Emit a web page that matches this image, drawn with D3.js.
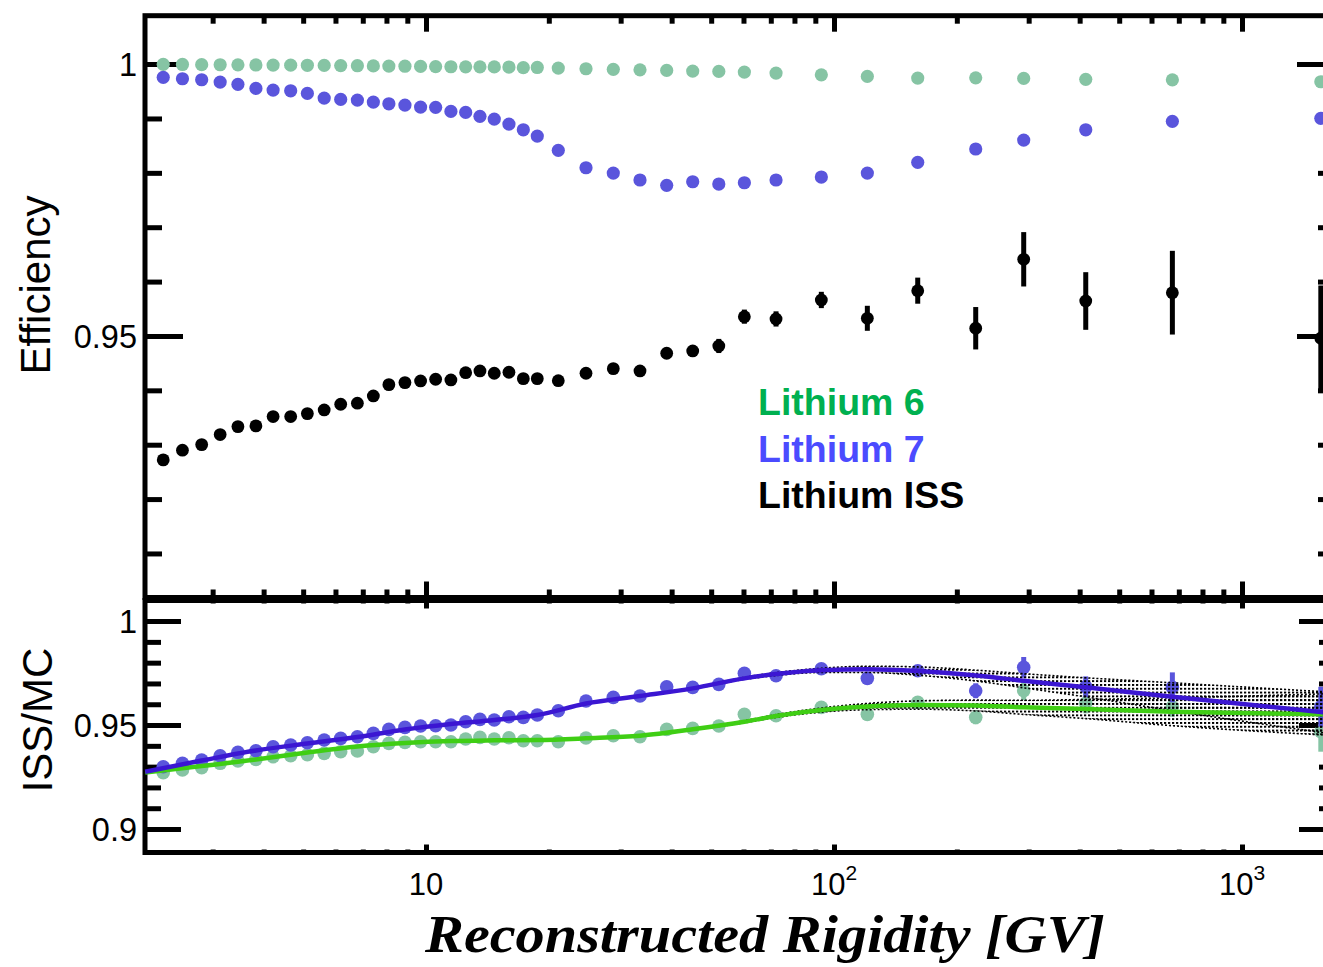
<!DOCTYPE html>
<html>
<head>
<meta charset="utf-8">
<script src="https://cdn.jsdelivr.net/npm/d3@7"></script>
<style>
  html, body { margin: 0; padding: 0; background: #fff; overflow: hidden; }
  svg { display: block; }
</style>
</head>
<body>
<svg id="chart" width="1323" height="967"></svg>
<script>
// Rigidity bin centres [GV]
const rigidity = [2.27, 2.53, 2.82, 3.13, 3.46, 3.83, 4.22, 4.66, 5.12, 5.63, 6.18, 6.79, 7.43, 8.11, 8.88, 9.70, 10.56,
  11.51, 12.51, 13.56, 14.70, 15.97, 17.32, 18.74, 21.10, 24.67, 28.78, 33.46, 38.9, 45.05, 52.2, 60.3, 72.1, 93.1, 120.7,
  160.4, 222.5, 291.7, 414, 675, 1560];

// Efficiency, Monte Carlo Li6
const effLi6 = [0.99995, 0.99993, 0.9999, 0.99988, 0.99986, 0.99984, 0.99982, 0.9998, 0.99978, 0.99976, 0.99973, 0.9997, 0.99967, 0.99964, 0.99961, 0.99957, 0.99954,
  0.99951, 0.9995, 0.99949, 0.99948, 0.99946, 0.99935, 0.99938, 0.99926, 0.99914, 0.99903, 0.99895, 0.99884, 0.99871, 0.99866, 0.99853, 0.99835, 0.99803, 0.99774,
  0.99743, 0.99748, 0.99737, 0.99719, 0.99711, 0.99675];

// Efficiency, Monte Carlo Li7
const effLi7 = [0.99756, 0.9973, 0.99712, 0.99669, 0.99627, 0.99553, 0.99522, 0.99509, 0.99461, 0.99375, 0.99351, 0.99338, 0.99301, 0.9927, 0.99246, 0.9921, 0.99204,
  0.9913, 0.99112, 0.99039, 0.98989, 0.98897, 0.98792, 0.98676, 0.98414, 0.98094, 0.97996, 0.97868, 0.9777, 0.97836, 0.97794, 0.97818, 0.97868, 0.97923, 0.97996,
  0.98193, 0.98438, 0.98603, 0.98792, 0.98947, 0.99002];

// Efficiency, ISS data, with its uncertainty
const effISS = [0.92721, 0.92899, 0.93002, 0.93186, 0.93333, 0.93346, 0.93517, 0.93517, 0.93572, 0.9364, 0.93744, 0.93763, 0.93897, 0.94105, 0.94142, 0.94173, 0.94204,
  0.94191, 0.94325, 0.94357, 0.94314, 0.94333, 0.94215, 0.94215, 0.94178, 0.94314, 0.94399, 0.94357, 0.94682, 0.94724, 0.94816, 0.95355, 0.95313, 0.95662, 0.95325,
  0.95833, 0.95142, 0.9641, 0.95643, 0.95796, 0.94958];
const effISSErr = [0.0003, 0.0003, 0.0003, 0.0003, 0.0003, 0.0003, 0.0003, 0.0003, 0.0003, 0.0003, 0.0003, 0.0003, 0.0003, 0.0003, 0.0003, 0.0003, 0.0003,
  0.0003, 0.0003, 0.0004, 0.0004, 0.0004, 0.0004, 0.0004, 0.0004, 0.0005, 0.0005, 0.0005, 0.0006, 0.0007, 0.0013, 0.0013, 0.0014, 0.0015, 0.0023,
  0.0024, 0.0039, 0.005, 0.0053, 0.0077, 0.0097];

// ISS / MC ratios
const ratioLi7 = [0.92995, 0.93159, 0.93317, 0.93524, 0.93688, 0.93764, 0.93957, 0.94038, 0.94149, 0.94279, 0.9436, 0.94438, 0.94601, 0.94793, 0.94889, 0.94952, 0.94966,
  0.95, 0.95159, 0.95274, 0.9524, 0.95399, 0.9537, 0.95481, 0.95688, 0.96154, 0.96332, 0.96394, 0.96841, 0.96813, 0.96957, 0.97486, 0.9737, 0.97707, 0.97245,
  0.97611, 0.96649, 0.97774, 0.96841, 0.96813, 0.9588];
const ratioLi7Err = [0.0003, 0.0003, 0.0003, 0.0003, 0.0003, 0.0003, 0.0003, 0.0003, 0.0003, 0.0003, 0.0003, 0.0003, 0.0003, 0.0003, 0.0003, 0.0003, 0.0003,
  0.0003, 0.0003, 0.0004, 0.0004, 0.0004, 0.0004, 0.0004, 0.0004, 0.0005, 0.0005, 0.0005, 0.0006, 0.0007, 0.0008, 0.0009, 0.001, 0.0012, 0.0014,
  0.0016, 0.0036, 0.005, 0.005, 0.0072, 0.0096];
const ratioLi6 = [0.92707, 0.92837, 0.92947, 0.93159, 0.93269, 0.93351, 0.93476, 0.93524, 0.93572, 0.93639, 0.93716, 0.9375, 0.93957, 0.9412, 0.94168, 0.94197, 0.94197,
  0.94197, 0.94327, 0.94409, 0.94327, 0.9439, 0.94245, 0.94245, 0.94197, 0.94375, 0.94486, 0.94438, 0.94793, 0.94841, 0.94952, 0.95514, 0.95447, 0.95851, 0.95514,
  0.96091, 0.9537, 0.96649, 0.96043, 0.9588, 0.94678];
const ratioLi6Err = [0.0003, 0.0003, 0.0003, 0.0003, 0.0003, 0.0003, 0.0003, 0.0003, 0.0003, 0.0003, 0.0003, 0.0003, 0.0003, 0.0003, 0.0003, 0.0003, 0.0003,
  0.0003, 0.0003, 0.0004, 0.0004, 0.0004, 0.0004, 0.0004, 0.0004, 0.0005, 0.0005, 0.0005, 0.0006, 0.0007, 0.0008, 0.0009, 0.001, 0.0012, 0.0014,
  0.0016, 0.0033, 0.0045, 0.0048, 0.0048, 0.0096];

// Smooth fits to the ratios and their uncertainty band (half width)
const fitR   = [2.05, 2.82, 3.83, 5.12, 6.79, 8.88, 11.51, 14.7, 18.74, 24.67, 33.46, 45.05, 60.3, 72.1, 93.1, 120.7, 160.4, 222.5, 291.7, 414, 675, 1690];
const fitLi7 = [0.92755, 0.93293, 0.93774, 0.94111, 0.94423, 0.94784, 0.95048, 0.9524, 0.95481, 0.96034, 0.96394, 0.96764, 0.97245, 0.97452, 0.9763, 0.97678, 0.97596, 0.9738, 0.9713, 0.96813, 0.96361, 0.9556];
const fitLi6 = [0.92716, 0.93029, 0.93341, 0.93678, 0.93966, 0.94135, 0.94231, 0.94264, 0.94279, 0.9436, 0.94486, 0.94793, 0.95159, 0.95433, 0.95721, 0.95889, 0.95962, 0.95938, 0.95851, 0.95769, 0.95639, 0.95505];
const fitBand = [0.0002, 0.0002, 0.0002, 0.0002, 0.0002, 0.0002, 0.0002, 0.0002, 0.0002, 0.0002, 0.0002, 0.0003, 0.0005, 0.0007, 0.001, 0.0015, 0.002, 0.0026, 0.0034, 0.0046, 0.0067, 0.0101];

// Axis ticks and labels
const xMajor = [10, 100, 1000];
const xMajorExp = ["", "2", "3"];
const yTopMajor = [0.95, 1];
const yTopMajorLabels = ["0.95", "1"];
const yTopMinor = [0.91, 0.92, 0.93, 0.94, 0.96, 0.97, 0.98, 0.99];
const yBotMajor = [0.9, 0.95, 1];
const yBotMajorLabels = ["0.9", "0.95", "1"];
const yBotMinor = [0.91, 0.92, 0.93, 0.94, 0.96, 0.97, 0.98, 0.99];

const legendLabels = ["Lithium 6", "Lithium 7", "Lithium ISS"];
const legendColors = ["#00b050", "#4b4bff", "#000000"];

// ---------------------------------------------------------------
const W = 1323, H = 967;
const C_LI6 = "#86c4a4", C_LI7 = "#5a55dc", C_ISS = "#000";
const C_FIT7 = "#3b16d2", C_FIT6 = "#3fce14";

const svg = d3.select("#chart");
svg.append("rect").attr("width", W).attr("height", H).attr("fill", "#fff");

// dotted hatch used for the fit uncertainty band
const defs = svg.append("defs");
const pat = defs.append("pattern").attr("id", "dotfill")
  .attr("width", 4).attr("height", 3.8).attr("patternUnits", "userSpaceOnUse");
pat.append("rect").attr("width", 2.2).attr("height", 1.9).attr("fill", "#000");

const L = 145, R = 1335;
const topY0 = 15.7, topY1 = 597.5, botY0 = 600.5, botY1 = 852.5;

const x = d3.scaleLog().domain([2.048, 1690]).range([L, R]);
const yTop = d3.scaleLinear().domain([0.9019, 1.0089]).range([topY1, topY0]);
const yBot = d3.scaleLinear().domain([0.8887, 1.0099]).range([botY1, botY0]);

const xMinor = x.ticks().filter(t => !xMajor.includes(t));

function tickStyle(g) {
  g.select(".domain").remove();
  g.selectAll("text").remove();
  g.selectAll("line").attr("stroke", "#000").attr("stroke-width", 5);
}

function axes(yS, yMajor, yMinor, ymaj, ymin, xmaj, xmin, y0, y1) {
  svg.append("g").attr("transform", `translate(${L},0)`)
    .call(d3.axisLeft(yS).tickValues(yMajor).tickSize(-ymaj)).call(tickStyle);
  svg.append("g").attr("transform", `translate(${L},0)`)
    .call(d3.axisLeft(yS).tickValues(yMinor).tickSize(-ymin)).call(tickStyle);
  svg.append("g").attr("transform", `translate(${R},0)`)
    .call(d3.axisRight(yS).tickValues(yMajor).tickSize(-ymaj)).call(tickStyle);
  svg.append("g").attr("transform", `translate(${R},0)`)
    .call(d3.axisRight(yS).tickValues(yMinor).tickSize(-ymin)).call(tickStyle);
  svg.append("g").attr("transform", `translate(0,${y0})`)
    .call(d3.axisTop(x).tickValues(xMajor).tickSize(-xmaj)).call(tickStyle);
  svg.append("g").attr("transform", `translate(0,${y0})`)
    .call(d3.axisTop(x).tickValues(xMinor).tickSize(-xmin)).call(tickStyle);
  svg.append("g").attr("transform", `translate(0,${y1})`)
    .call(d3.axisBottom(x).tickValues(xMajor).tickSize(-xmaj)).call(tickStyle);
  svg.append("g").attr("transform", `translate(0,${y1})`)
    .call(d3.axisBottom(x).tickValues(xMinor).tickSize(-xmin)).call(tickStyle);
  svg.append("rect").attr("x", L).attr("y", y0).attr("width", R - L).attr("height", y1 - y0)
    .attr("fill", "none").attr("stroke", "#000").attr("stroke-width", 5);
}

axes(yTop, yTopMajor, yTopMinor, 38, 17, 16, 8, topY0, topY1);
axes(yBot, yBotMajor, yBotMinor, 36, 16, 8, 3, botY0, botY1);

// y tick labels
const labFont = "'Liberation Sans', Arial, Helvetica, sans-serif";
function yLabels(yS, vals, labels) {
  svg.append("g").selectAll("text").data(vals).join("text")
    .attr("x", 137).attr("y", d => yS(d)).attr("dy", "0.36em")
    .attr("text-anchor", "end").attr("font-family", labFont).attr("font-size", 32.5)
    .text((d, i) => labels[i]);
}
yLabels(yTop, yTopMajor, yTopMajorLabels);
yLabels(yBot, yBotMajor, yBotMajorLabels);

// x tick labels (powers of ten)
const xl = svg.append("g").selectAll("text").data(xMajor).join("text")
  .attr("x", d => x(d)).attr("y", 895).attr("text-anchor", "middle")
  .attr("font-family", labFont).attr("font-size", 31);
xl.append("tspan").text("10");
xl.filter((d, i) => xMajorExp[i] !== "").append("tspan")
  .attr("dy", -15).attr("font-size", 21).text(d => xMajorExp[xMajor.indexOf(d)]);

// axis titles
svg.append("text").attr("transform", "translate(50,285) rotate(-90)")
  .attr("text-anchor", "middle").attr("font-family", labFont).attr("font-size", 42)
  .text("Efficiency");
svg.append("text").attr("transform", "translate(52,720) rotate(-90)")
  .attr("text-anchor", "middle").attr("font-family", labFont).attr("font-size", 42)
  .text("ISS/MC");
svg.append("text").attr("x", 425).attr("y", 952)
  .attr("font-family", "'Liberation Serif', 'DejaVu Serif', serif")
  .attr("font-style", "italic").attr("font-weight", "bold").attr("font-size", 52)
  .attr("textLength", 680).attr("lengthAdjust", "spacingAndGlyphs")
  .text("Reconstructed Rigidity [GV]");

// ---------- top panel: efficiencies ----------
const topG = svg.append("g");
function errBars(g, yS, vals, errs, color) {
  g.append("g").selectAll("line").data(rigidity).join("line")
    .attr("x1", d => x(d)).attr("x2", d => x(d))
    .attr("y1", (d, i) => yS(vals[i] - errs[i])).attr("y2", (d, i) => yS(vals[i] + errs[i]))
    .attr("stroke", color).attr("stroke-width", 5);
}
function dots(g, yS, vals, color, r) {
  g.append("g").selectAll("circle").data(rigidity).join("circle")
    .attr("cx", d => x(d)).attr("cy", (d, i) => yS(vals[i])).attr("r", r).attr("fill", color);
}
dots(topG, yTop, effLi6, C_LI6, 6.6);
dots(topG, yTop, effLi7, C_LI7, 6.6);
errBars(topG, yTop, effISS, effISSErr, C_ISS);
dots(topG, yTop, effISS, C_ISS, 6.4);

// legend
svg.append("g").selectAll("text").data(legendLabels).join("text")
  .attr("x", 758).attr("y", (d, i) => 415 + i * 46.5)
  .attr("font-family", labFont).attr("font-weight", "bold").attr("font-size", 37.5)
  .attr("fill", (d, i) => legendColors[i]).text(d => d);

// ---------- bottom panel: ISS/MC ----------
const botG = svg.append("g");
const fitData7 = fitR.map((r, i) => ({ r, v: fitLi7[i], b: fitBand[i] }));
const fitData6 = fitR.map((r, i) => ({ r, v: fitLi6[i], b: fitBand[i] }));

errBars(botG, yBot, ratioLi6, ratioLi6Err, C_LI6);
dots(botG, yBot, ratioLi6, C_LI6, 6.8);
errBars(botG, yBot, ratioLi7, ratioLi7Err, C_LI7);
dots(botG, yBot, ratioLi7, C_LI7, 6.8);

const band = d3.area().x(d => x(d.r)).y0(d => yBot(d.v - d.b)).y1(d => yBot(d.v + d.b))
  .curve(d3.curveMonotoneX);
const bandEdge = (sign) => d3.line().x(d => x(d.r)).y(d => yBot(d.v + sign * d.b)).curve(d3.curveMonotoneX);
[fitData7, fitData6].forEach(fd => {
  botG.append("path").attr("d", band(fd)).attr("fill", "url(#dotfill)");
  [1, -1].forEach(s => botG.append("path").attr("d", bandEdge(s)(fd)).attr("fill", "none")
    .attr("stroke", "#000").attr("stroke-width", 1.6).attr("stroke-dasharray", "2,2"));
});

const fitLine = d3.line().x(d => x(d.r)).y(d => yBot(d.v)).curve(d3.curveMonotoneX);
botG.append("path").attr("d", fitLine(fitData6)).attr("fill", "none")
  .attr("stroke", C_FIT6).attr("stroke-width", 4.5);
botG.append("path").attr("d", fitLine(fitData7)).attr("fill", "none")
  .attr("stroke", C_FIT7).attr("stroke-width", 4.5);
</script>
</body>
</html>
